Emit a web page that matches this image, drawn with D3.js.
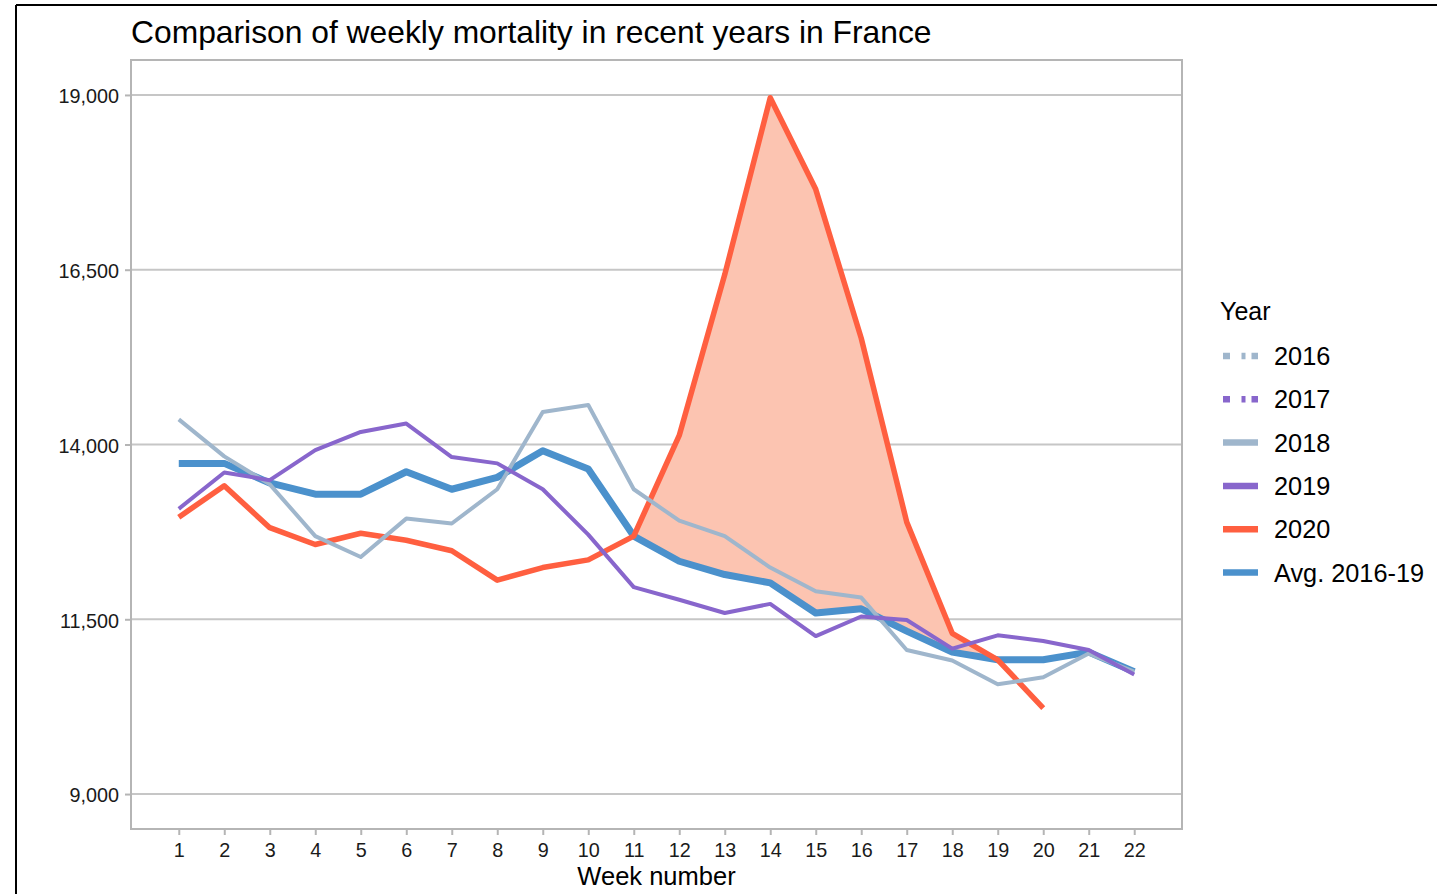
<!DOCTYPE html>
<html>
<head>
<meta charset="utf-8">
<script src="https://cdn.jsdelivr.net/npm/d3@7"></script>
<style>
  html, body { margin: 0; padding: 0; background: #fff; }
  svg { display: block; font-family: "Liberation Sans", Arial, sans-serif; }
</style>
</head>
<body>
<svg id="chart" width="1439" height="894"></svg>
<script>
// ---------------- data ----------------
const weeks = [1,2,3,4,5,6,7,8,9,10,11,12,13,14,15,16,17,18,19,20,21,22];
const deaths2018 = [14360,13830,13430,12690,12390,12940,12870,13360,14465,14565,13360,12910,12690,12240,11900,11810,11060,10910,10570,10670,11010,10750];
const deaths2019 = [13080,13600,13490,13920,14180,14300,13820,13730,13360,12710,11960,11780,11590,11720,11260,11540,11490,11080,11270,11190,11060,10710];
const deaths2020 = [12960,13410,12810,12570,12730,12630,12480,12060,12240,12350,12690,14130,16430,18960,17650,15520,12890,11300,10920,10230];
const avg2016_19 = [13730,13730,13450,13290,13290,13610,13360,13530,13910,13650,12690,12330,12140,12020,11590,11650,11330,11030,10920,10920,11030,10750];
const yTicks = [9000, 11500, 14000, 16500, 19000];
const legendLabels = ["2016","2017","2018","2019","2020","Avg. 2016-19"];
const titleText = "Comparison of weekly mortality in recent years in France";
const xLabel = "Week number";
const legendTitle = "Year";

// ---------------- styles ----------------
const colors = {
  "2016": "#9fb6cc", "2017": "#8866cc", "2018": "#9fb6cc", "2019": "#8866cc",
  "2020": "#ff5f40", "Avg. 2016-19": "#4b91cc"
};
const dashed = { "2016": "7,11.5,4,6,7", "2017": "7,11.5,4,6,7" };
const fillColor = "#fcc4b1";
const gridColor = "#c6c6c6";
const frameColor = "#b5b5b5";

const svg = d3.select("#chart");

// outer black frame (top and left edges)
svg.append("line").attr("x1", 16).attr("x2", 1437).attr("y1", 5).attr("y2", 5)
  .attr("stroke", "#000").attr("stroke-width", 2);
svg.append("line").attr("x1", 16).attr("x2", 16).attr("y1", 5).attr("y2", 894)
  .attr("stroke", "#000").attr("stroke-width", 2);

const L = 131, R = 1182, T = 60, B = 829;
const x = d3.scaleLinear().domain([-0.05, 23.05]).range([L, R]);
const y = d3.scaleLinear().domain([8500, 19500]).range([B, T]);

// gridlines
svg.append("g").selectAll("line").data(yTicks).join("line")
  .attr("x1", L).attr("x2", R)
  .attr("y1", d => y(d)).attr("y2", d => y(d))
  .attr("stroke", gridColor).attr("stroke-width", 2);

// excess-mortality fill (2020 above average)
const n = deaths2020.length;
const pts = [];
for (let i = 0; i < n; i++) {
  const w = weeks[i], r = deaths2020[i], a = avg2016_19[i];
  pts.push({w, r, a});
  if (i < n - 1) {
    const d0 = r - a, d1 = deaths2020[i+1] - avg2016_19[i+1];
    if (d0 * d1 < 0) {
      const t = d0 / (d0 - d1);
      const wc = w + t * (weeks[i+1] - w);
      const ac = a + t * (avg2016_19[i+1] - a);
      pts.push({w: wc, r: ac, a: ac});
    }
  }
}
svg.append("path")
  .datum(pts)
  .attr("fill", fillColor)
  .attr("d", d3.area()
    .x(d => x(d.w))
    .y0(d => y(d.a))
    .y1(d => y(Math.max(d.r, d.a))));

// lines
const line = d3.line().x(d => x(d[0])).y(d => y(d[1]));
function drawSeries(vals, color, width) {
  svg.append("path")
    .datum(vals.map((v, i) => [weeks[i], v]))
    .attr("fill", "none")
    .attr("stroke", color)
    .attr("stroke-width", width)
    .attr("stroke-linejoin", "round")
    .attr("d", line);
}
drawSeries(avg2016_19, colors["Avg. 2016-19"], 7);
drawSeries(deaths2020, colors["2020"], 5.5);
drawSeries(deaths2018, colors["2018"], 4);
drawSeries(deaths2019, colors["2019"], 4);

// panel border
svg.append("rect").attr("x", L).attr("y", T).attr("width", R - L).attr("height", B - T)
  .attr("fill", "none").attr("stroke", frameColor).attr("stroke-width", 2);

// axes
const yAxis = svg.append("g").attr("transform", `translate(${L},0)`)
  .call(d3.axisLeft(y).tickValues(yTicks).tickFormat(d3.format(",")).tickSize(6).tickPadding(6));
yAxis.select(".domain").remove();
yAxis.selectAll(".tick line").attr("stroke", frameColor).attr("stroke-width", 2);
yAxis.selectAll(".tick text").attr("font-size", "19.8px").attr("fill", "#1a1a1a")
  .attr("font-family", '"Liberation Sans", Arial, sans-serif').attr("dy", "0.4em");

const xAxis = svg.append("g").attr("transform", `translate(0,${B})`)
  .call(d3.axisBottom(x).tickValues(weeks).tickFormat(d3.format("d")).tickSize(6).tickPadding(8));
xAxis.select(".domain").remove();
xAxis.selectAll(".tick line").attr("stroke", frameColor).attr("stroke-width", 2);
xAxis.selectAll(".tick text").attr("font-size", "19.8px").attr("fill", "#1a1a1a")
  .attr("font-family", '"Liberation Sans", Arial, sans-serif');

// axis title
svg.append("text").attr("x", (L + R) / 2).attr("y", 885).attr("text-anchor", "middle")
  .attr("font-size", "25.5px").attr("fill", "#000").text(xLabel);

// chart title
svg.append("text").attr("x", 131).attr("y", 42.5)
  .attr("font-size", "31.8px").attr("fill", "#000").text(titleText);

// legend
svg.append("text").attr("x", 1220).attr("y", 320)
  .attr("font-size", "25px").attr("fill", "#000").text(legendTitle);
const lg = svg.append("g");
legendLabels.forEach((lab, i) => {
  const cy = 356 + i * 43.3;
  const ln = lg.append("line").attr("x1", 1223).attr("x2", 1258).attr("y1", cy).attr("y2", cy)
    .attr("stroke", colors[lab]).attr("stroke-width", 6.5);
  if (dashed[lab]) ln.attr("stroke-dasharray", dashed[lab]);
  lg.append("text").attr("x", 1274).attr("y", cy + 9)
    .attr("font-size", "25.3px").attr("fill", "#000").text(lab);
});
</script>
</body>
</html>
